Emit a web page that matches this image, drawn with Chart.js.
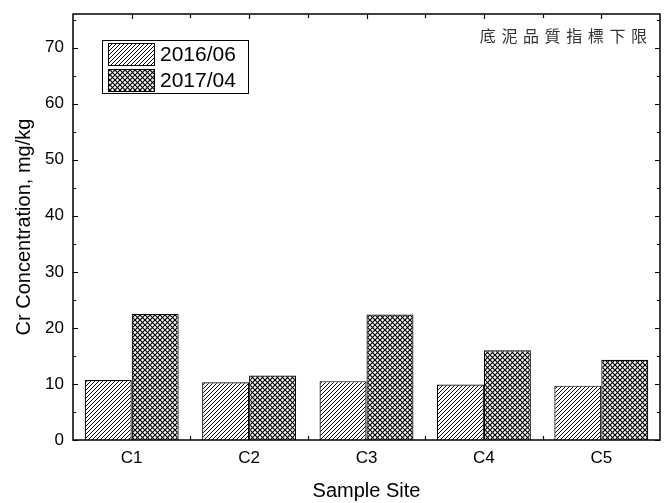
<!DOCTYPE html>
<html>
<head>
<meta charset="utf-8">
<script src="https://cdn.jsdelivr.net/npm/chart.js@4/dist/chart.umd.min.js"></script>
<style>
  html, body { margin: 0; padding: 0; background: #fff; }
  #wrap { width: 664px; height: 503px; }
</style>
</head>
<body>
<div id="wrap"><canvas id="c" width="664" height="503"></canvas></div>
<script>
// Cr concentration at each sampling site, two surveys
const sites = ['C1', 'C2', 'C3', 'C4', 'C5'];
const seriesLabels = ['2016/06', '2017/04'];
const cr2016 = [10.7, 10.3, 10.5, 9.9, 9.7];
const cr2017 = [22.5, 11.5, 22.4, 16.0, 14.3];
const yTickValues = [0, 10, 20, 30, 40, 50, 60, 70];
const yMinorValues = [5, 15, 25, 35, 45, 55, 65, 75];
const sedimentLimit = 76;              // lower limit of the sediment quality indicator
const limitLabel = '底泥品質指標下限';

const FONT = "'Liberation Sans', Arial, sans-serif";

// Black-and-white fill patterns
function makePattern(size, width, draw) {
  const cv = document.createElement('canvas');
  cv.width = size; cv.height = size;
  const g = cv.getContext('2d');
  g.fillStyle = '#fff';
  g.fillRect(0, 0, size, size);
  g.strokeStyle = '#000';
  g.lineWidth = width;
  draw(g, size);
  return g.createPattern(cv, 'repeat');
}
function forwardSlash(g, s) {
  g.beginPath();
  g.moveTo(-1, s + 1); g.lineTo(s + 1, -1);
  g.moveTo(-1, 1); g.lineTo(1, -1);
  g.moveTo(s - 1, s + 1); g.lineTo(s + 1, s - 1);
  g.stroke();
}
function backSlash(g, s) {
  g.beginPath();
  g.moveTo(-1, -1); g.lineTo(s + 1, s + 1);
  g.moveTo(s - 1, -1); g.lineTo(s + 1, 1);
  g.moveTo(-1, s - 1); g.lineTo(1, s + 1);
  g.stroke();
}
const hatchFill = makePattern(4, 1.0, (g, s) => forwardSlash(g, s));
const crossFill = makePattern(5, 1.2, (g, s) => { forwardSlash(g, s); backSlash(g, s); });

// Boxed frame with inward ticks on all four sides
const framePlugin = {
  id: 'frame',
  afterDatasetsDraw(chart) {
    const { ctx, chartArea: a, scales: { x, y } } = chart;
    ctx.save();
    ctx.strokeStyle = '#000';
    ctx.lineWidth = 1.5;
    ctx.strokeRect(a.left, a.top, a.right - a.left, a.bottom - a.top);
    ctx.lineWidth = 1.2;
    ctx.beginPath();
    yTickValues.forEach(v => {
      const p = Math.round(y.getPixelForValue(v)) + 0.5;
      ctx.moveTo(a.left, p); ctx.lineTo(a.left + 5, p);
      ctx.moveTo(a.right, p); ctx.lineTo(a.right - 5, p);
    });
    yMinorValues.forEach(v => {
      const p = Math.round(y.getPixelForValue(v)) + 0.5;
      ctx.moveTo(a.left, p); ctx.lineTo(a.left + 3, p);
      ctx.moveTo(a.right, p); ctx.lineTo(a.right - 3, p);
    });
    sites.forEach((s, i) => {
      const c = Math.round(x.getPixelForValue(i)) + 0.5;
      ctx.moveTo(c, a.top); ctx.lineTo(c, a.top + 5);
      if (i > 0) {
        const b = Math.round((x.getPixelForValue(i - 1) + x.getPixelForValue(i)) / 2) + 0.5;
        ctx.moveTo(b, a.top); ctx.lineTo(b, a.top + 4);
        ctx.moveTo(b, a.bottom); ctx.lineTo(b, a.bottom - 4);
      }
    });
    ctx.stroke();
    ctx.restore();
  },
  afterDraw(chart) {
    const { ctx, chartArea: a, scales: { y } } = chart;
    ctx.save();
    // legend box
    const lx = 102, ly = 40, lw = 146, lh = 53;
    ctx.fillStyle = '#fff';
    ctx.fillRect(lx, ly, lw, lh);
    ctx.strokeStyle = '#000';
    ctx.lineWidth = 1;
    ctx.strokeRect(lx + 0.5, ly + 0.5, lw, lh);
    ctx.font = '21px ' + FONT;
    ctx.textBaseline = 'middle';
    ctx.textAlign = 'left';
    chart.data.datasets.forEach((ds, i) => {
      const sy = ly + 3 + i * 26;
      ctx.fillStyle = ds.backgroundColor;
      ctx.fillRect(lx + 6, sy, 46, 22);
      ctx.lineWidth = 1;
      ctx.strokeRect(lx + 6.5, sy + 0.5, 46, 22);
      ctx.fillStyle = '#000';
      ctx.fillText(ds.label, lx + 58, sy + 12);
    });
    // limit label along the top edge
    ctx.font = "16px 'Noto Sans CJK TC', sans-serif";
    ctx.fillStyle = '#333';
    ctx.textAlign = 'left';
    const chars = Array.from(limitLabel);
    const pitch = 21.6;
    let cx = a.right - 13 - 16 - pitch * (chars.length - 1);
    const cy = y.getPixelForValue(sedimentLimit) + 22;
    chars.forEach(ch => { ctx.fillText(ch, cx, cy); cx += pitch; });
    ctx.restore();
  }
};

new Chart(document.getElementById('c'), {
  type: 'bar',
  data: {
    labels: sites,
    datasets: [
      { label: seriesLabels[0], data: cr2016, backgroundColor: hatchFill, borderColor: '#000', borderWidth: 1.2 },
      { label: seriesLabels[1], data: cr2017, backgroundColor: crossFill, borderColor: '#000', borderWidth: 1.2 }
    ]
  },
  options: {
    responsive: false,
    animation: false,
    devicePixelRatio: 1,
    layout: { padding: { left: 0, right: 4, top: 14, bottom: 0 } },
    datasets: { bar: { categoryPercentage: 0.8, barPercentage: 1.0 } },
    plugins: { legend: { display: false }, tooltip: { enabled: false } },
    scales: {
      x: {
        grid: { display: false, drawTicks: false },
        border: { display: false },
        ticks: { color: '#000', font: { family: FONT, size: 17 }, padding: 8 },
        title: { display: true, text: 'Sample Site', color: '#000', font: { family: FONT, size: 20 }, padding: { top: 0, bottom: 0 } },
        afterFit(scale) { scale.height = 63; }
      },
      y: {
        min: 0,
        max: sedimentLimit,
        grid: { display: false, drawTicks: false },
        border: { display: false },
        ticks: { color: '#000', font: { family: FONT, size: 17 }, padding: 9 },
        afterBuildTicks(scale) { scale.ticks = yTickValues.map(v => ({ value: v })); },
        title: { display: true, text: 'Cr Concentration, mg/kg', color: '#000', font: { family: FONT, size: 20 }, padding: { top: 12, bottom: 0 } },
        afterFit(scale) { scale.width = 73; scale.paddingTop = 0; }
      }
    }
  },
  plugins: [framePlugin]
});
</script>
</body>
</html>
